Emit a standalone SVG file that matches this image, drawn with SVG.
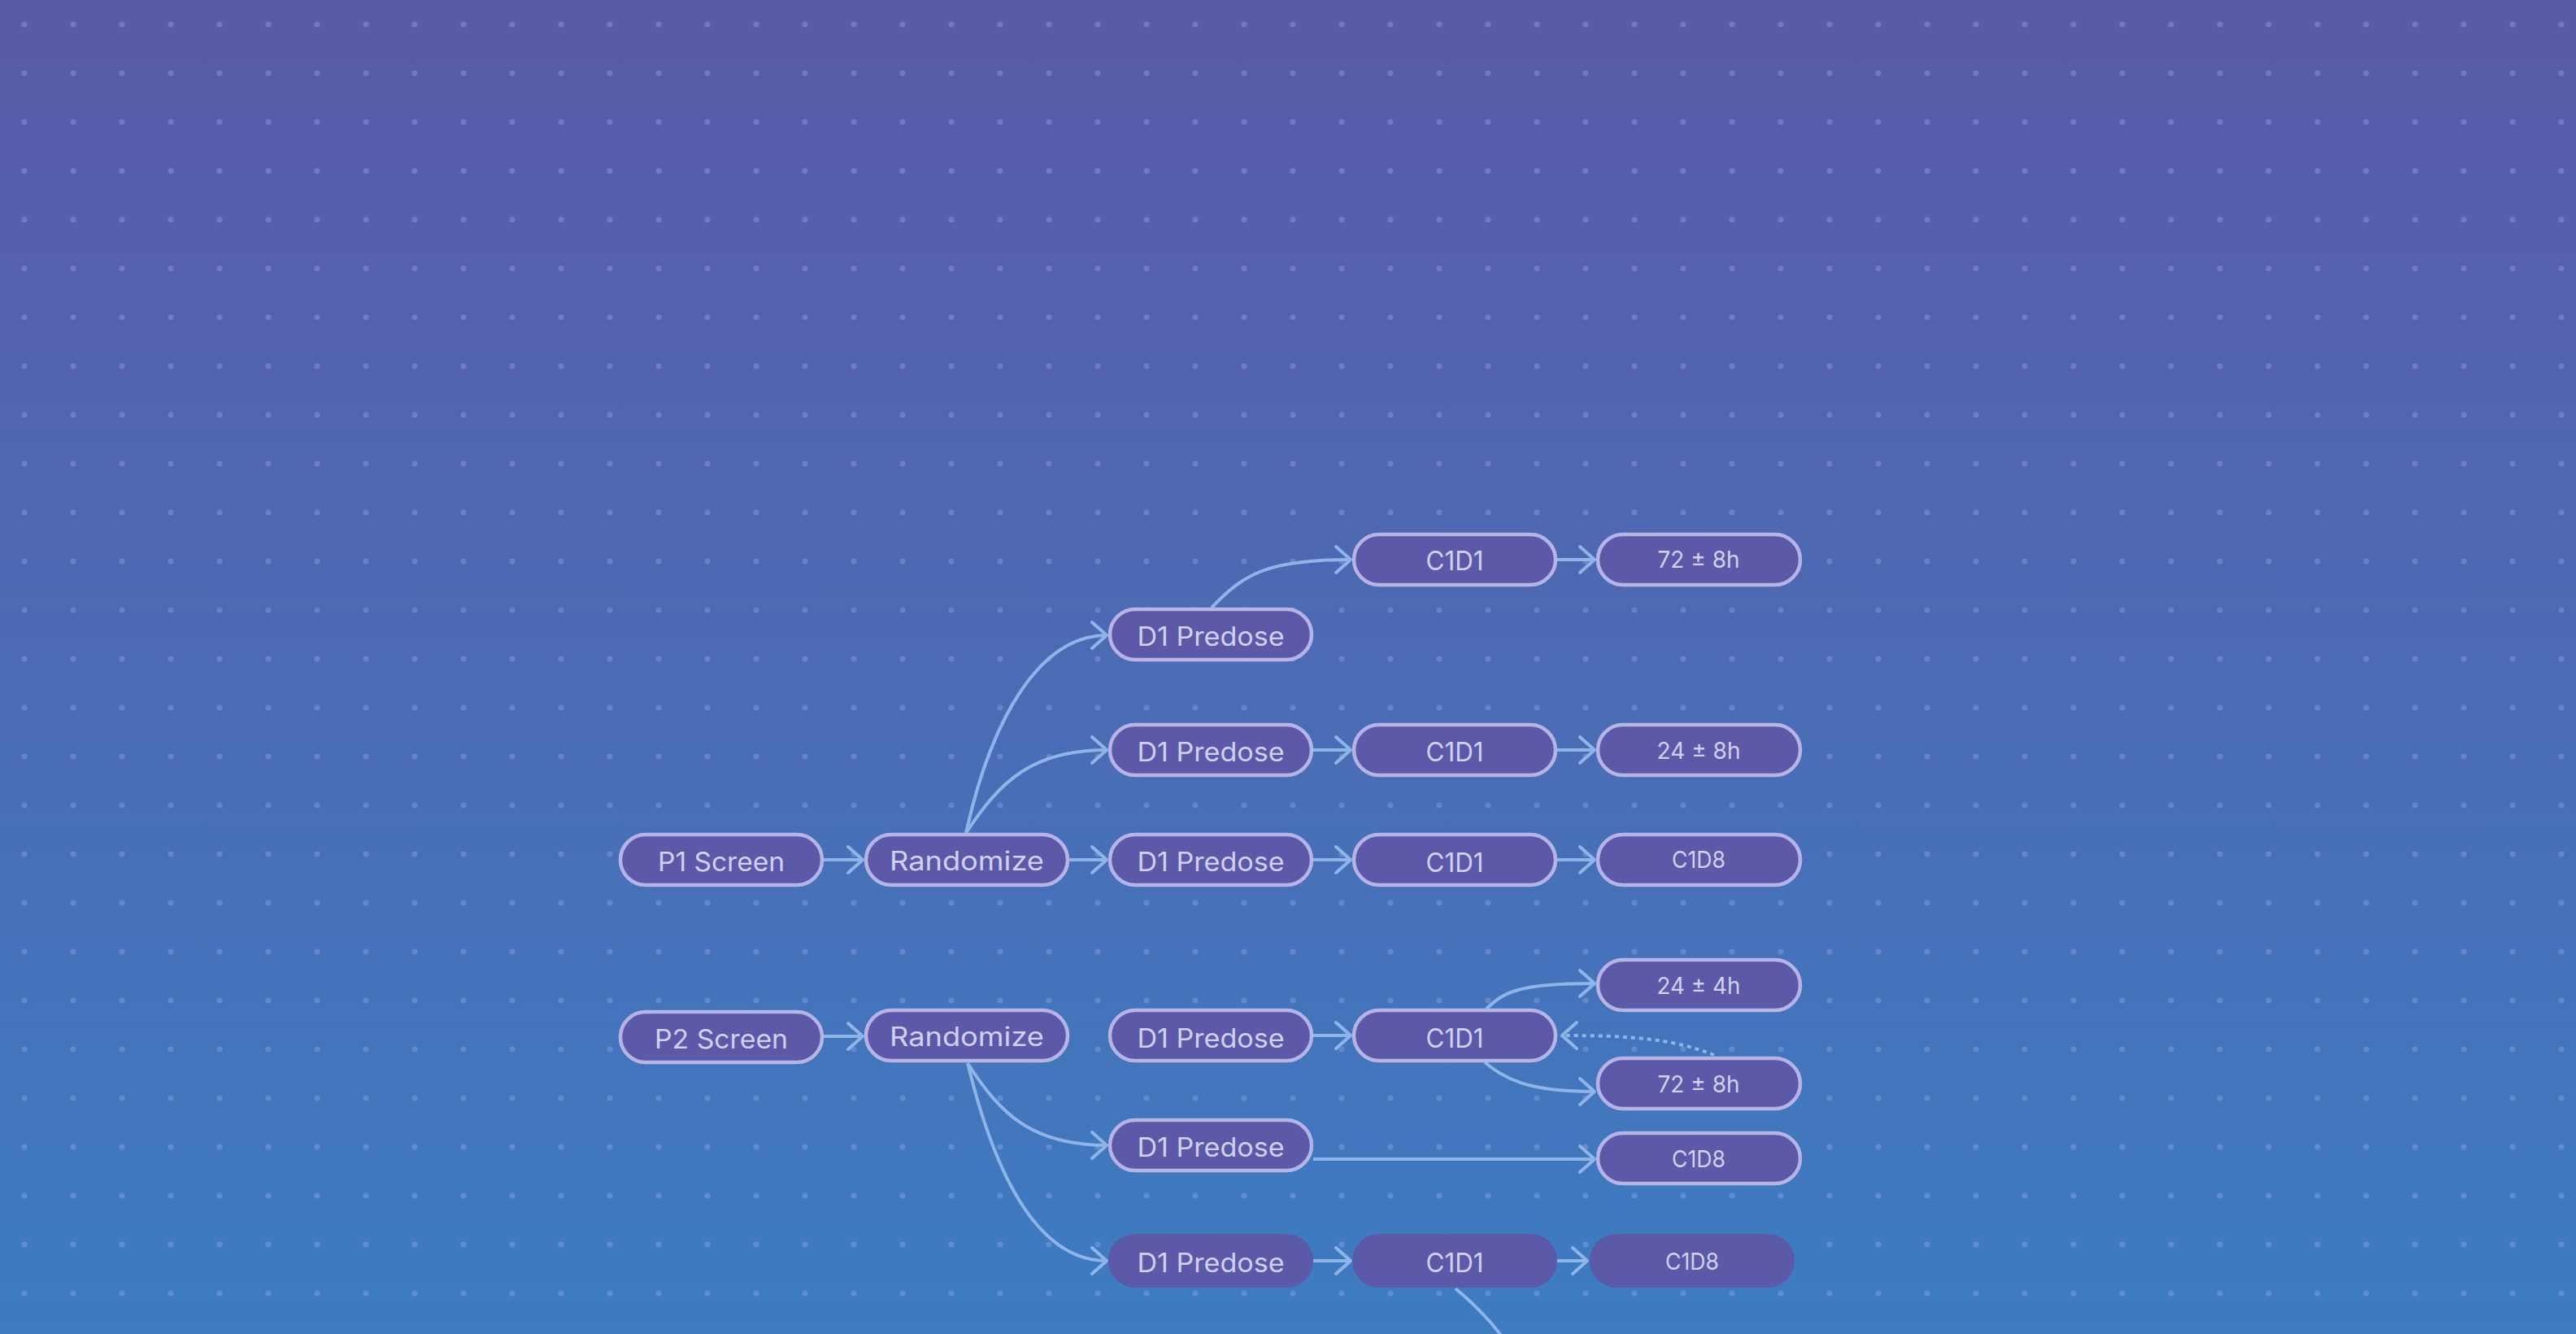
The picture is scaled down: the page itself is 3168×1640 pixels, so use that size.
<svg xmlns="http://www.w3.org/2000/svg" width="3168" height="1640" viewBox="0 0 3168 1640">
<defs>
<linearGradient id="bg" x1="0" y1="0" x2="0" y2="1">
<stop offset="0" stop-color="#5a5aa8"/>
<stop offset="0.5" stop-color="#4b6bb4"/>
<stop offset="1" stop-color="#3d7cc2"/>
</linearGradient>
<pattern id="dots" x="0" y="0" width="60" height="60" patternUnits="userSpaceOnUse">
<circle cx="30" cy="30" r="3.5" fill="#aab2ee" fill-opacity="0.33"/>
</pattern>
<marker id="arr" viewBox="-22 -20 26 40" markerWidth="26" markerHeight="40" refX="0" refY="0" orient="auto" markerUnits="userSpaceOnUse">
<path d="M-18,-16 L0,0 L-18,16" fill="none" stroke="#8fb5e8" stroke-width="4" stroke-linecap="round" stroke-linejoin="round"/>
</marker>
<style>
.n rect{fill:#5b59a8;stroke:#b6b4e6;stroke-width:4.5}
.n rect.ns{stroke:none}
.n text{fill:#d0d0f2;font-family:Inter,"Open Sans","Liberation Sans",sans-serif;text-anchor:middle}
.m{font-size:32px}
.t{font-size:29px}
.e path{fill:none;stroke:#8fb5e8;stroke-width:4;marker-end:url(#arr)}
.e path.dot{stroke-dasharray:5 5}
.e path.open{marker-end:none}
</style>
</defs>
<rect width="3168" height="1640" fill="url(#bg)"/>
<rect width="3168" height="1640" fill="url(#dots)"/>

<g id="edges" class="e">
<path d="M1013,1057 H1061"/>
<path d="M1188,1024 C1220,880 1280,781 1361,781"/>
<path d="M1188,1024 C1230,960 1270,922 1361,922"/>
<path d="M1315,1057 H1361"/>
<path d="M1490,747 C1530,705 1560,688 1661,688"/>
<path d="M1915,688 H1961"/>
<path d="M1615,922 H1661"/>
<path d="M1915,922 H1961"/>
<path d="M1615,1057 H1661"/>
<path d="M1915,1057 H1961"/>
<path d="M1013,1274 H1061"/>
<path d="M1190,1307 C1230,1370 1270,1408 1361,1408"/>
<path d="M1190,1307 C1220,1430 1270,1550 1361,1550"/>
<path d="M1615,1273 H1661"/>
<path d="M1828,1240 C1850,1220 1865,1209 1961,1209"/>
<path d="M1826,1306 C1850,1325 1875,1342 1961,1342"/>
<path class="dot" d="M2108,1297 C2060,1278 2010,1273 1921,1273"/>
<path d="M1615,1425 H1961"/>
<path d="M1615,1550 H1661"/>
<path d="M1915,1550 H1952"/>
<path class="open" d="M1790,1584 C1815,1605 1835,1625 1852,1650"/>
</g>

<g id="p1-screen" class="n"><rect x="763" y="1026" width="248" height="62" rx="31"/><text class="m" x="887" y="1071" textLength="156" lengthAdjust="spacingAndGlyphs">P1 Screen</text></g>
<g id="p1-randomize" class="n"><rect x="1065" y="1026" width="248" height="62" rx="31"/><text class="m" x="1189" y="1070" textLength="190" lengthAdjust="spacingAndGlyphs">Randomize</text></g>
<g id="p1-d1-a" class="n"><rect x="1365" y="749" width="248" height="62" rx="31"/><text class="m" x="1489" y="794" textLength="181" lengthAdjust="spacingAndGlyphs">D1 Predose</text></g>
<g id="p1-c1d1-a" class="n"><rect x="1665" y="657" width="248" height="62" rx="31"/><text class="m" x="1789" y="701" textLength="71" lengthAdjust="spacingAndGlyphs">C1D1</text></g>
<g id="p1-72h-a" class="n"><rect x="1965" y="657" width="249" height="62" rx="31"/><text class="t" x="2089" y="698" textLength="101" lengthAdjust="spacingAndGlyphs">72 ± 8h</text></g>
<g id="p1-d1-b" class="n"><rect x="1365" y="891" width="248" height="62" rx="31"/><text class="m" x="1489" y="936" textLength="181" lengthAdjust="spacingAndGlyphs">D1 Predose</text></g>
<g id="p1-c1d1-b" class="n"><rect x="1665" y="891" width="248" height="62" rx="31"/><text class="m" x="1789" y="936" textLength="71" lengthAdjust="spacingAndGlyphs">C1D1</text></g>
<g id="p1-24h-b" class="n"><rect x="1965" y="891" width="249" height="62" rx="31"/><text class="t" x="2089" y="933" textLength="103" lengthAdjust="spacingAndGlyphs">24 ± 8h</text></g>
<g id="p1-d1-c" class="n"><rect x="1365" y="1026" width="248" height="62" rx="31"/><text class="m" x="1489" y="1071" textLength="181" lengthAdjust="spacingAndGlyphs">D1 Predose</text></g>
<g id="p1-c1d1-c" class="n"><rect x="1665" y="1026" width="248" height="62" rx="31"/><text class="m" x="1789" y="1072" textLength="71" lengthAdjust="spacingAndGlyphs">C1D1</text></g>
<g id="p1-c1d8-c" class="n"><rect x="1965" y="1026" width="249" height="62" rx="31"/><text class="t" x="2089" y="1067" textLength="66" lengthAdjust="spacingAndGlyphs">C1D8</text></g>

<g id="p2-screen" class="n"><rect x="763" y="1244" width="248" height="62" rx="31"/><text class="m" x="887" y="1289" textLength="164" lengthAdjust="spacingAndGlyphs">P2 Screen</text></g>
<g id="p2-randomize" class="n"><rect x="1065" y="1242" width="248" height="62" rx="31"/><text class="m" x="1189" y="1286" textLength="190" lengthAdjust="spacingAndGlyphs">Randomize</text></g>
<g id="p2-d1-a" class="n"><rect x="1365" y="1242" width="248" height="62" rx="31"/><text class="m" x="1489" y="1288" textLength="181" lengthAdjust="spacingAndGlyphs">D1 Predose</text></g>
<g id="p2-c1d1-a" class="n"><rect x="1665" y="1242" width="248" height="62" rx="31"/><text class="m" x="1789" y="1288" textLength="71" lengthAdjust="spacingAndGlyphs">C1D1</text></g>
<g id="p2-24h" class="n"><rect x="1965" y="1180" width="249" height="62" rx="31"/><text class="t" x="2089" y="1222" textLength="103" lengthAdjust="spacingAndGlyphs">24 ± 4h</text></g>
<g id="p2-72h" class="n"><rect x="1965" y="1301" width="249" height="62" rx="31"/><text class="t" x="2089" y="1343" textLength="101" lengthAdjust="spacingAndGlyphs">72 ± 8h</text></g>
<g id="p2-d1-b" class="n"><rect x="1365" y="1377" width="248" height="62" rx="31"/><text class="m" x="1489" y="1422" textLength="181" lengthAdjust="spacingAndGlyphs">D1 Predose</text></g>
<g id="p2-c1d8-b" class="n"><rect x="1965" y="1393" width="249" height="62" rx="31"/><text class="t" x="2089" y="1435" textLength="66" lengthAdjust="spacingAndGlyphs">C1D8</text></g>
<g id="p2-d1-c" class="n"><rect class="ns" x="1363" y="1517" width="252" height="66" rx="33"/><text class="m" x="1489" y="1564" textLength="181" lengthAdjust="spacingAndGlyphs">D1 Predose</text></g>
<g id="p2-c1d1-c" class="n"><rect class="ns" x="1663" y="1517" width="252" height="66" rx="33"/><text class="m" x="1789" y="1564" textLength="71" lengthAdjust="spacingAndGlyphs">C1D1</text></g>
<g id="p2-c1d8-c" class="n"><rect class="ns" x="1955" y="1517" width="252" height="66" rx="33"/><text class="t" x="2081" y="1561" textLength="66" lengthAdjust="spacingAndGlyphs">C1D8</text></g>
</svg>
